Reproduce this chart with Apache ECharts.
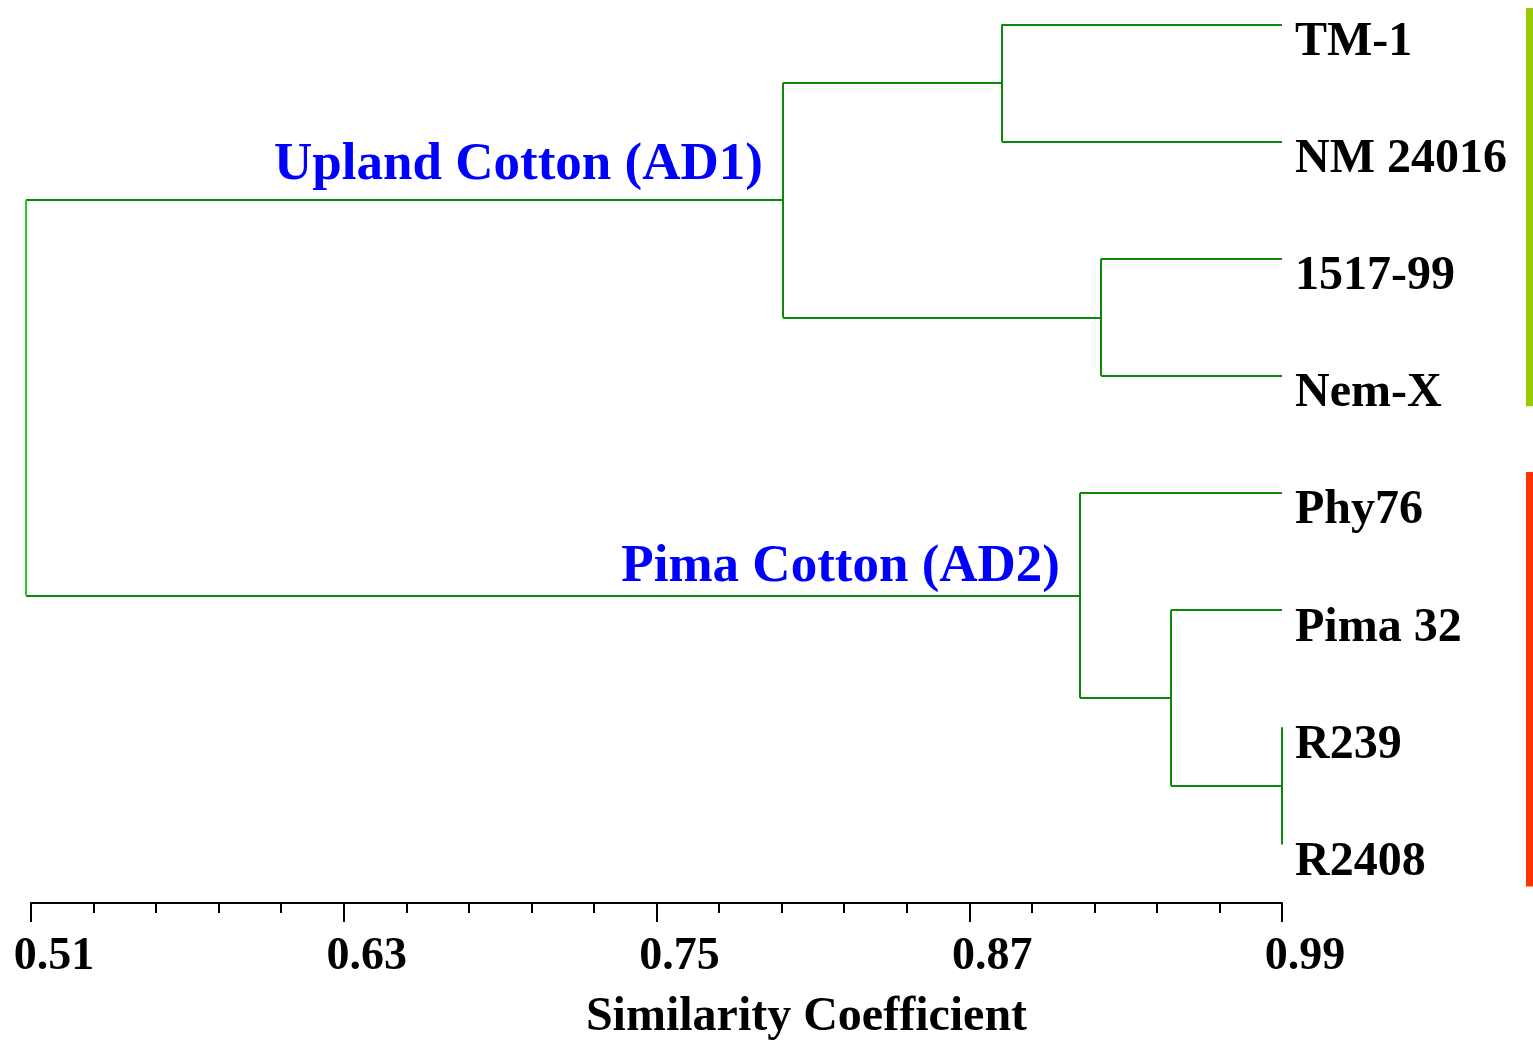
<!DOCTYPE html>
<html>
<head>
<meta charset="utf-8">
<title>Dendrogram</title>
<script src="https://cdn.jsdelivr.net/npm/echarts@6/dist/echarts.min.js"></script>
<style>
  html, body { margin: 0; padding: 0; background: #fff; }
  #chart { width: 1533px; height: 1041px; }
</style>
</head>
<body>
<div id="chart"></div>
<script>
// leaves, top to bottom
const leaves = ['TM-1', 'NM 24016', '1517-99', 'Nem-X', 'Phy76', 'Pima 32', 'R239', 'R2408'];
const leafSim = 0.99;

// merges: node ids < 8 are leaves, node 8+k is the k-th merge
const mergeA = [0, 2, 8, 6, 5, 4, 10];
const mergeB = [1, 3, 9, 7, 11, 12, 13];
const mergeSim = [0.8825, 0.9206, 0.7985, 0.99, 0.9474, 0.9125, 0.5081];

// cluster names and the node they sit on
const groupNames = ['Upland Cotton (AD1)', 'Pima Cotton (AD2)'];
const groupNodes = [10, 13];
// side bars (in leaf rows)
const groupStart = [-0.14, 3.82];
const groupEnd = [3.26, 7.36];
const groupColors = ['#99cc00', '#ff3300'];

// axis
const axisMin = 0.51;
const axisMax = 0.99;
const axisStep = 0.12;

const FONT = 'Liberation Serif';
const LINE = '#0a880a';
const ROOT = '#22cc22';
const groupLabelLift = [-35, -28];

// node positions, x is stored relative to axisMin so ticks start at 0
const nodeX = [], nodeY = [];
leaves.forEach((n, i) => { nodeX.push(leafSim - axisMin); nodeY.push(i); });
mergeSim.forEach((s, k) => {
    nodeX.push(s - axisMin);
    nodeY.push((nodeY[mergeA[k]] + nodeY[mergeB[k]]) / 2);
});

const rootIdx = mergeSim.length - 1;
const horiz = [], vert = [];
mergeSim.forEach((s, k) => {
    const x = s - axisMin;
    const a = mergeA[k], b = mergeB[k];
    horiz.push({ coords: [[nodeX[a], nodeY[a]], [x, nodeY[a]]] });
    horiz.push({ coords: [[nodeX[b], nodeY[b]], [x, nodeY[b]]] });
    const v = { coords: [[x, nodeY[a]], [x, nodeY[b]]] };
    if (k === rootIdx) v.lineStyle = { color: ROOT };
    vert.push(v);
});

const yMin = -0.2, yMax = 7.5;

var myChart = echarts.init(document.getElementById('chart'));
var option = {
    animation: false,
    grid: [
        { left: 31, top: 1, width: 1251, height: 902, containLabel: false, outerBoundsMode: 'none' },
        { left: 1526, top: 1, width: 7, height: 902, containLabel: false, outerBoundsMode: 'none' }
    ],
    xAxis: [
        {
            type: 'value', gridIndex: 0, position: 'bottom',
            min: 0, max: axisMax - axisMin, interval: axisStep,
            axisLine: { show: true, onZero: false, lineStyle: { color: '#000', width: 2 } },
            axisTick: { show: true, length: 19, lineStyle: { color: '#000', width: 2 } },
            minorTick: { show: true, splitNumber: 5, length: 10, lineStyle: { color: '#000', width: 2 } },
            splitLine: { show: false },
            axisLabel: {
                margin: 31,
                padding: [0, 0, 0, 46],
                formatter: v => (v + axisMin).toFixed(2),
                color: '#000', fontFamily: FONT, fontWeight: 'bold', fontSize: 46
            },
            name: 'Similarity Coefficient',
            nameLocation: 'middle',
            nameGap: 91,
            nameTextStyle: { color: '#000', fontFamily: FONT, fontWeight: 'bold', fontSize: 48, padding: [0, 0, 0, 300] }
        },
        { type: 'value', gridIndex: 1, min: 0, max: 1, show: false }
    ],
    yAxis: [
        { type: 'value', gridIndex: 0, min: yMin, max: yMax, inverse: true, show: false },
        { type: 'value', gridIndex: 1, min: yMin, max: yMax, inverse: true, show: false }
    ],
    series: [
        {
            type: 'lines', coordinateSystem: 'cartesian2d', clip: false,
            lineStyle: { color: LINE, width: 2, opacity: 1 },
            data: horiz
        },
        {
            type: 'lines', coordinateSystem: 'cartesian2d', clip: false,
            lineStyle: { color: LINE, width: 2, opacity: 1 },
            data: vert
        },
        {
            type: 'scatter', clip: false, symbolSize: 0,
            itemStyle: { opacity: 1 },
            data: leaves.map((n, i) => ({ name: n, value: [nodeX[i], nodeY[i]] })),
            label: {
                show: true, position: 'right', distance: 13, offset: [0, 18],
                formatter: p => p.name,
                color: '#000', fontFamily: FONT, fontWeight: 'bold', fontSize: 48
            }
        },
        {
            type: 'scatter', clip: false, symbolSize: 0,
            itemStyle: { opacity: 1 },
            data: groupNames.map((n, i) => ({
                name: n,
                value: [nodeX[groupNodes[i]], nodeY[groupNodes[i]]],
                label: { offset: [0, groupLabelLift[i]] }
            })),
            label: {
                show: true, position: 'left', distance: 20,
                formatter: p => p.name,
                color: '#0000ff', fontFamily: FONT, fontWeight: 'bold', fontSize: 53
            }
        },
        {
            type: 'lines', coordinateSystem: 'cartesian2d', xAxisIndex: 1, yAxisIndex: 1,
            data: groupStart.map((s, i) => ({
                coords: [[0.5, s], [0.5, groupEnd[i]]],
                lineStyle: { color: groupColors[i] }
            })),
            lineStyle: { width: 7, opacity: 1, cap: 'butt' }
        }
    ]
};
myChart.setOption(option);
</script>
</body>
</html>
